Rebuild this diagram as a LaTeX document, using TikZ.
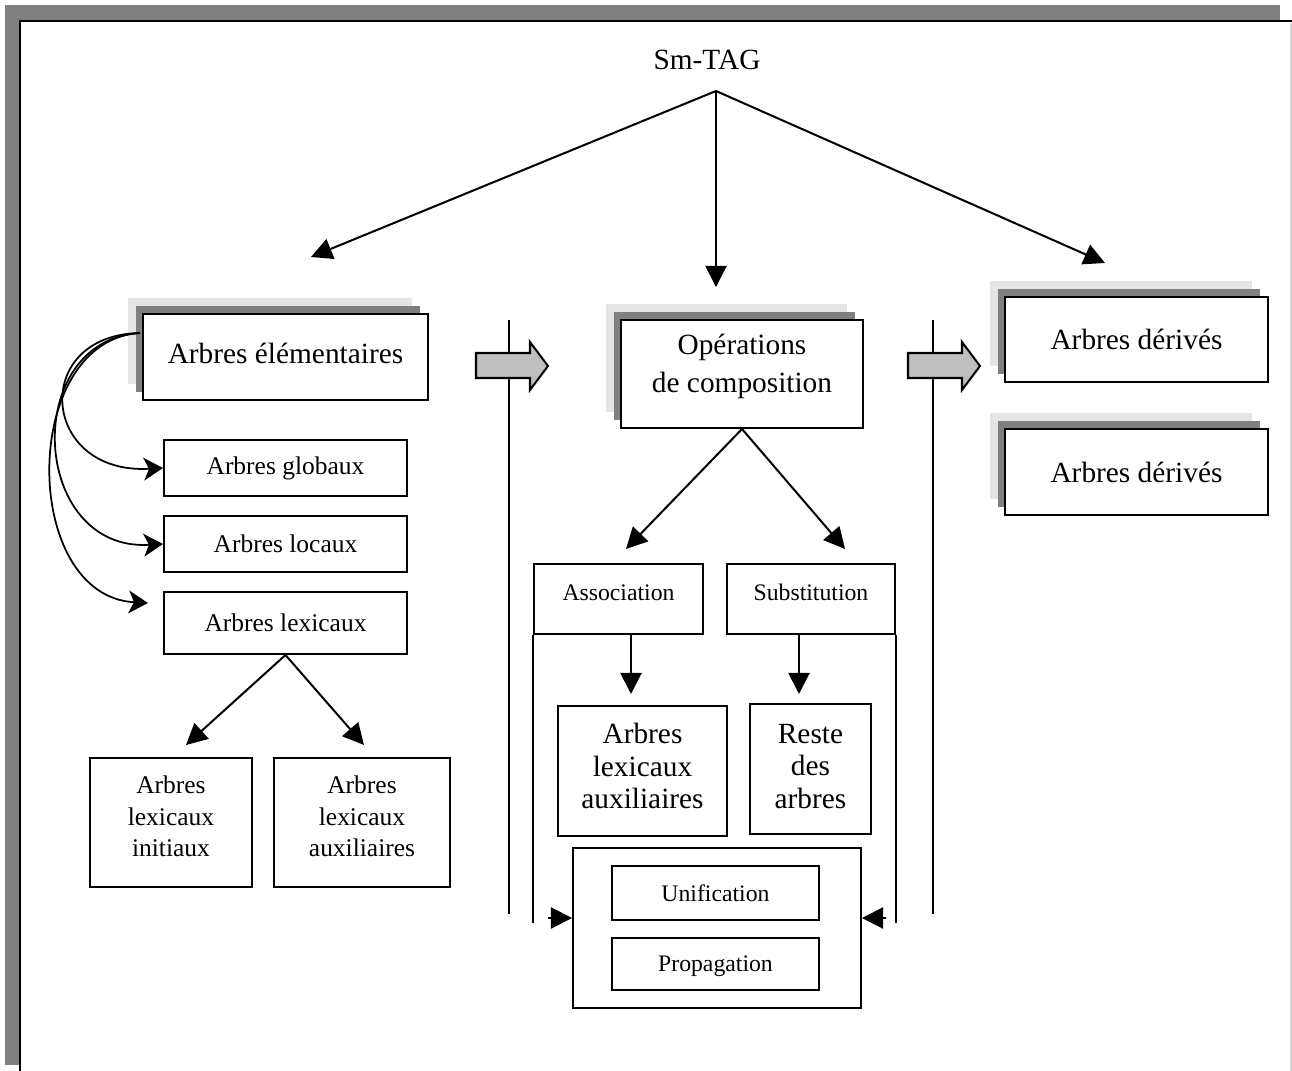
\documentclass[tikz,border=0pt]{standalone}
\usepackage{fontspec}
\setmainfont{Liberation Serif}
\usetikzlibrary{positioning, arrows.meta, shadows, calc}

\begin{document}
\begin{tikzpicture}[
    x=0.02cm, y=-0.02cm,
    line width=1.15pt,
    box/.style={
        draw=black, line width=1.15pt,
        rectangle, fill=white,
        align=center, inner sep=2pt
    },
    big/.style={font=\fontsize{16.7}{18.5}\selectfont},
    mid/.style={font=\fontsize{14.5}{18}\selectfont},
    small/.style={font=\fontsize{13.5}{16}\selectfont},
    % the two offset copies behind the main boxes
    stacked/.style={
        general shadow={fill=black!10, draw=none, shadow xshift=-0.31cm, shadow yshift=0.32cm},
        general shadow={fill=black!50, draw=none, shadow xshift=-0.15cm, shadow yshift=0.16cm}
    },
    arrow/.style={-{Triangle[length=12pt, width=12pt]}, line width=1.15pt},
    curved/.style={-{Stealth[length=11pt, width=13pt, inset=3pt]}, line width=1pt},
    blockarrow/.style={draw=black, fill=black!25, line width=1.15pt, line join=miter}
]
\useasboundingbox (0,0) rectangle (1292,1071);

% Frame
\fill[black!50] (5,5) rectangle (1280,20);
\fill[black!50] (5,5) rectangle (19,1065);
\draw[line width=1.6pt] (20,1071) -- (20,21) -- (1292,21);
\draw[black!15, line width=1pt] (1291,23) -- (1291,1071);

% Separators and block arrows
\foreach \sx/\ax in {509/476, 933/908} {
    \draw (\sx,320) -- (\sx,914);
    \draw[blockarrow] (\ax,353) -- ++(54,0) -- ++(0,-11) -- ++(18,24)
        -- ++(-18,24) -- ++(0,-12) -- ++(-54,0) -- cycle;
}

% Nodes
\node[big] (smtag) at (707,60) {Sm-TAG};
\coordinate (apex) at (716,91);

\node[box, big, stacked, text depth=4.5pt, minimum width=5.70cm, minimum height=1.72cm] (elem) at (285.5,357) {Arbres élémentaires};
\node[box, mid, minimum width=4.86cm, minimum height=1.12cm] (glob) at (285.5,468) {Arbres globaux};
\node[box, mid, minimum width=4.86cm, minimum height=1.12cm] (loc) at (285.5,544) {Arbres locaux};
\node[box, mid, minimum width=4.86cm, minimum height=1.24cm] (lexi) at (285.5,623) {Arbres lexicaux};
\node[box, mid, text depth=6.8pt, minimum width=3.24cm, minimum height=2.58cm] (lexini) at (171,822.5) {Arbres\\lexicaux\\initiaux};
\node[box, mid, text depth=6.8pt, minimum width=3.52cm, minimum height=2.58cm] (lexaux) at (362,822.5) {Arbres\\lexicaux\\auxiliaires};

\node[box, big, stacked, text depth=12.5pt, minimum width=4.84cm, minimum height=2.16cm] (oper) at (742,374) {Opérations\\[3pt]de composition};
\node[box, small, text height=10pt, text depth=8pt, minimum width=3.38cm, minimum height=1.40cm] (assoc) at (618.5,599) {Association};
\node[box, small, text height=10pt, text depth=8pt, minimum width=3.36cm, minimum height=1.40cm] (subst) at (811,599) {Substitution};
\node[box, big, text depth=5.7pt, minimum width=3.38cm, minimum height=2.60cm] (auxarb) at (642.5,771) {Arbres\\lexicaux\\auxiliaires};
\node[box, big, text depth=3.4pt, minimum width=2.42cm, minimum height=2.60cm] (reste) at (810.5,769) {Reste\\des\\arbres};
\node[box, minimum width=5.76cm, minimum height=3.20cm] (opbox) at (717,928) {};
\node[box, small, minimum width=4.14cm, minimum height=1.08cm] (unif) at (715.5,893) {Unification};
\node[box, small, text depth=0pt, minimum width=4.14cm, minimum height=1.04cm] (prop) at (715.5,964) {Propagation};

\node[box, big, stacked, minimum width=5.26cm, minimum height=1.70cm] (der1) at (1136.5,339.5) {Arbres dérivés};
\node[box, big, stacked, minimum width=5.26cm, minimum height=1.72cm] (der2) at (1136.5,472) {Arbres dérivés};

% Arrows from Sm-TAG
\coordinate (tipl) at (311,257);
\coordinate (tipm) at (716,287);
\coordinate (tipr) at (1105,263);
\draw[arrow] (apex) -- (tipl);
\draw[arrow] (apex) -- (tipm);
\draw[arrow] (apex) -- (tipr);

% Curved arrows on the left
\coordinate (cstart) at (140,333);
\coordinate (ctip) at (148,603);
\draw[curved] (cstart) .. controls (30,335) and (40,475) .. (glob.west);
\draw[curved] (cstart) .. controls (20,340) and (30,552) .. (loc.west);
\draw[curved] (cstart) .. controls (20,340) and (20,596) .. (ctip);

% Lexical trees split
\coordinate (lexl) at (186,745);
\coordinate (lexr) at (364,745);
\draw[arrow] (lexi.south) -- (lexl);
\draw[arrow] (lexi.south) -- (lexr);

% Composition operations
\coordinate (opl) at (626,549);
\coordinate (opr) at (845,549);
\draw[arrow] (oper.south) -- (opl);
\draw[arrow] (oper.south) -- (opr);
\draw[arrow] (assoc.south -| 631,0) -- (631,694);
\draw[arrow] (subst.south -| 799,0) -- (799,694);
\draw (assoc.south west) -- ++(0,288);
\draw (subst.south east) -- ++(0,288);
\coordinate (inl) at (548,918);
\coordinate (inr) at (886,918);
\draw[arrow] (inl) -- (inl -| opbox.west);
\draw[arrow] (inr) -- (inr -| opbox.east);

\end{tikzpicture}
\end{document}
